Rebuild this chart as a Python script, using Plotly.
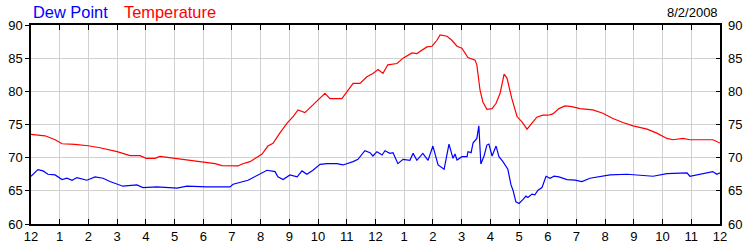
import plotly.graph_objects as go

# Hour of day (0 = midnight, 24 = next midnight) and readings (°F)
temp_hours = [0.00, 0.49, 0.84, 1.08, 1.53, 1.99, 2.40, 2.75, 3.00, 3.45, 3.80, 4.01, 4.32, 4.49,
              5.02, 5.54, 5.99, 6.41, 6.65, 7.21, 7.35, 7.63, 7.87, 8.05, 8.25, 8.43, 8.66, 8.92,
              9.13, 9.30, 9.54, 9.89, 10.24, 10.41, 10.83, 11.22, 11.46, 11.70, 11.91, 12.09,
              12.26, 12.43, 12.75, 12.96, 13.27, 13.44, 13.79, 13.97, 14.14, 14.25, 14.49, 14.66,
              14.84, 15.01, 15.22, 15.47, 15.53, 15.64, 15.74, 15.88, 16.06, 16.20, 16.34, 16.48,
              16.58, 16.75, 16.93, 17.10, 17.28, 17.45, 17.62, 17.83, 18.01, 18.18, 18.39, 18.60,
              18.84, 19.12, 19.57, 19.92, 20.27, 20.62, 20.97, 21.46, 21.80, 22.15, 22.36, 22.71,
              22.95, 23.75, 24.00]
temp_values = [73.5, 73.3, 72.7, 72.1, 72.0, 71.8, 71.5, 71.2, 70.9, 70.3, 70.3, 69.9, 69.9, 70.2,
               69.9, 69.6, 69.4, 69.1, 68.8, 68.75, 69.05, 69.4, 70.05, 70.55, 71.75, 72.15, 73.65, 75.2,
               76.2, 77.2, 76.8, 78.2, 79.7, 78.9, 78.9, 81.2, 81.2, 82.2, 82.7, 83.3,
               82.7, 84.0, 84.2, 85.0, 85.8, 85.7, 86.7, 86.8, 87.7, 88.5, 88.3, 87.7,
               86.8, 86.5, 85.1, 84.7, 84.0, 80.2, 78.4, 77.3, 77.4, 78.2, 79.7, 82.6,
               82.0, 78.9, 76.2, 75.4, 74.3, 75.2, 76.1, 76.4, 76.4, 76.6, 77.4, 77.8,
               77.7, 77.4, 77.2, 76.7, 75.9, 75.3, 74.8, 74.3, 73.7, 72.9, 72.7, 72.9,
               72.7, 72.7, 72.2]

dew_hours = [0.00, 0.24, 0.42, 0.59, 0.84, 1.08, 1.25, 1.43, 1.60, 1.95, 2.23, 2.51, 2.75, 3.20,
             3.69, 3.90, 4.39, 5.09, 5.43, 6.13, 6.93, 7.04, 7.56, 8.22, 8.50, 8.60, 8.78, 9.02,
             9.27, 9.44, 9.61, 9.82, 10.07, 10.31, 10.66, 10.87, 11.22, 11.39, 11.63, 11.81,
             11.91, 12.05, 12.23, 12.33, 12.50, 12.61, 12.78, 12.96, 13.20, 13.31, 13.44, 13.65,
             13.83, 14.00, 14.18, 14.39, 14.56, 14.70, 14.77, 14.84, 15.01, 15.19, 15.22, 15.33,
             15.40, 15.53, 15.60, 15.67, 15.78, 15.88, 15.95, 16.06, 16.20, 16.30, 16.44, 16.58,
             16.61, 16.72, 16.79, 16.89, 17.00, 17.14, 17.24, 17.31, 17.45, 17.55, 17.66, 17.80,
             17.94, 18.08, 18.22, 18.39, 18.67, 18.95, 19.19, 19.47, 19.82, 20.17, 20.76, 21.67,
             22.15, 22.85, 22.95, 23.30, 23.75, 23.89, 24.00]
dew_values = [67.2, 68.2, 68.0, 67.5, 67.4, 66.7, 66.9, 66.6, 67.0, 66.6, 67.1, 66.9, 66.4, 65.7,
              65.9, 65.5, 65.6, 65.4, 65.7, 65.6, 65.6, 66.0, 66.6, 68.1, 67.9, 67.1, 66.7, 67.4,
              67.1, 68.0, 67.5, 68.1, 69.0, 69.1, 69.1, 68.9, 69.4, 69.75, 71.05, 70.75,
              70.25, 70.9, 70.4, 71.05, 70.65, 70.75, 69.1, 69.75, 69.6, 70.65, 69.6, 70.65,
              69.6, 71.75, 68.9, 68.25, 72.05, 69.9, 70.55, 69.65, 70.15, 70.15, 70.9, 70.75,
              72.25, 72.9, 74.8, 69.05, 70.25, 71.9, 72.05, 70.25, 71.75, 70.15, 69.4, 68.4,
              68.25, 65.9, 65.1, 63.35, 63.1, 63.7, 64.2, 64.0, 64.5, 64.4, 65.1, 65.5,
              67.2, 66.9, 67.2, 67.1, 66.7, 66.6, 66.4, 66.9, 67.2, 67.4, 67.5, 67.2,
              67.6, 67.7, 67.2, 67.5, 67.9, 67.5, 67.7]

x_tick_values = list(range(0, 25))
x_tick_labels = ["12", "1", "2", "3", "4", "5", "6", "7", "8", "9", "10", "11",
                 "12", "1", "2", "3", "4", "5", "6", "7", "8", "9", "10", "11", "12"]
y_tick_values = [60, 65, 70, 75, 80, 85, 90]
series_names = ["Dew Point", "Temperature"]
date_label = "8/2/2008"

FONT = "Liberation Sans, Arial, sans-serif"
L, R, T, B = 31, 30, 25, 26
W, H = 750, 250
plot_w = W - L - R
plot_h = H - T - B


def px_x(px):
    return (px - L) / plot_w


def px_y(py):
    return (H - B - py) / plot_h


fig = go.Figure()
fig.add_trace(go.Scatter(x=dew_hours, y=dew_values, mode="lines", name=series_names[0],
                         line=dict(color="#0000ff", width=1.2)))
fig.add_trace(go.Scatter(x=temp_hours, y=temp_values, mode="lines", name=series_names[1],
                         line=dict(color="#ff0000", width=1.2)))
# invisible trace to carry the right-hand axis
fig.add_trace(go.Scatter(x=[0], y=[60], yaxis="y2", mode="markers",
                         marker=dict(opacity=0), showlegend=False, hoverinfo="skip"))

fig.update_layout(
    width=W, height=H,
    margin=dict(l=L, r=R, t=T, b=B, pad=0, autoexpand=False),
    paper_bgcolor="white", plot_bgcolor="white",
    showlegend=False,
    font=dict(family=FONT, size=13, color="#000000"),
    xaxis=dict(range=[0, 24], tickmode="array", tickvals=x_tick_values, ticktext=x_tick_labels,
               showgrid=True, gridcolor="#d0d0d0", gridwidth=1, zeroline=False,
               showline=True, linecolor="black", linewidth=1.5, mirror="ticks",
               ticks="inside", ticklen=5, tickcolor="black", automargin=False,
               tickfont=dict(family=FONT, size=13, color="#000000")),
    yaxis=dict(range=[60, 90], tickmode="array", tickvals=y_tick_values,
               showgrid=True, gridcolor="#d0d0d0", gridwidth=1, zeroline=False,
               showline=True, linecolor="black", linewidth=1.5, mirror=True,
               ticks="outside", ticklen=4, tickcolor="black", automargin=False,
               tickfont=dict(family=FONT, size=13, color="#000000")),
    yaxis2=dict(range=[60, 90], tickmode="array", tickvals=y_tick_values, overlaying="y",
                side="right", showgrid=False, zeroline=False, showline=False,
                ticks="inside", ticklen=4, tickcolor="black", ticklabelstandoff=7,
                automargin=False,
                tickfont=dict(family=FONT, size=13, color="#000000")),
    annotations=[
        dict(text=series_names[0], x=px_x(31), y=px_y(12), xref="paper", yref="paper",
             showarrow=False, xanchor="left", yanchor="middle",
             font=dict(family=FONT, size=16.4, color="#0000ff")),
        dict(text=series_names[1], x=px_x(122), y=px_y(12), xref="paper", yref="paper",
             showarrow=False, xanchor="left", yanchor="middle",
             font=dict(family=FONT, size=16.4, color="#ff0000")),
        dict(text=date_label, x=px_x(720), y=px_y(12), xref="paper", yref="paper",
             showarrow=False, xanchor="right", yanchor="middle",
             font=dict(family=FONT, size=13, color="#000000")),
    ],
)

fig.write_html("out.html")
